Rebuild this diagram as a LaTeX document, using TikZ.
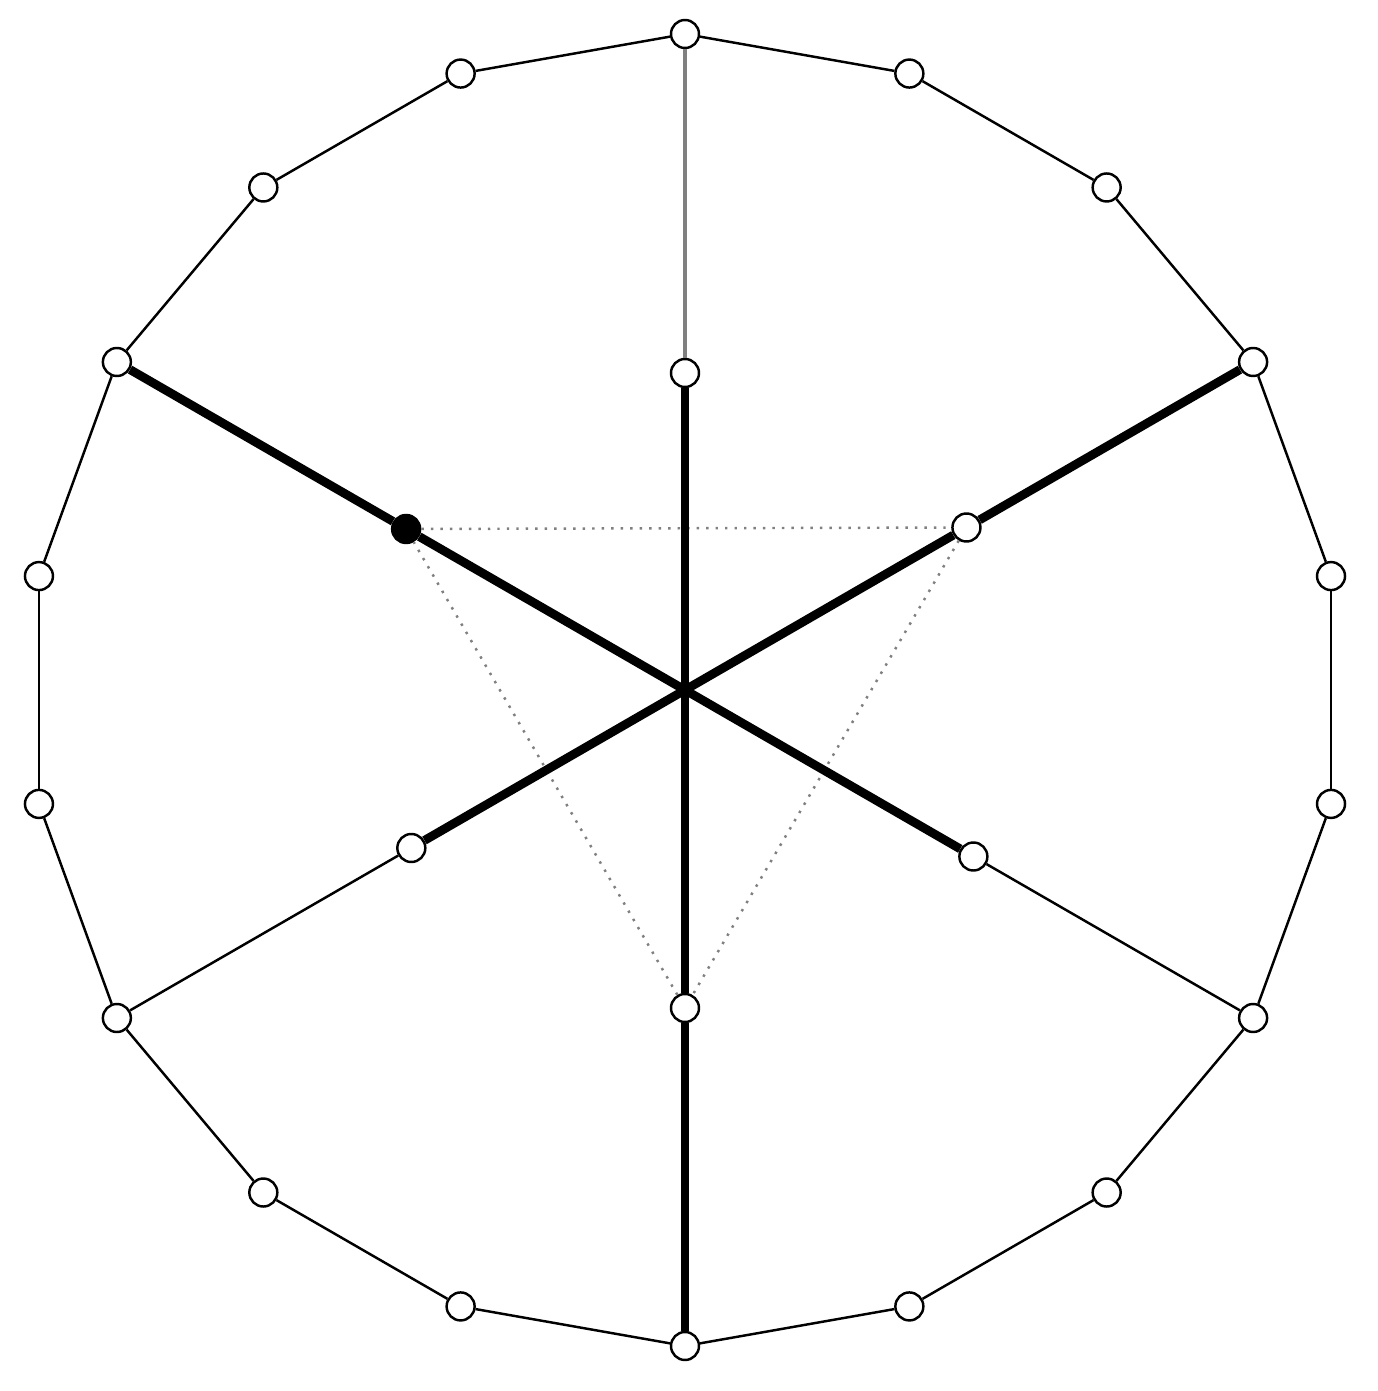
\documentclass[tikz,border=0pt]{standalone}
\usepackage{amsmath}
\usetikzlibrary{calc}

\begin{document}
\begin{tikzpicture}[
  vertex/.style={circle, draw, fill=white, inner sep=0pt, minimum size=0.28cm, line width=0.7pt},
  fullvertex/.style={vertex, fill=black},
  rim/.style={line width=0.7pt},
  spoke/.style={line width=2.5pt},
  hint/.style={gray, dotted, line width=0.7pt}
]
\useasboundingbox (-6.85,-7.01) rectangle (6.93,6.90);
\coordinate (c) at (0,0);
% outer ring of 18 vertices
\foreach \i in {0,...,17}
  \node [vertex] (o\i) at ({90-20*\i}:6.56) {};
% inner vertices
\node [vertex] (it) at (90:3.17) {};
\node [vertex] (iur) at (30:3.25) {};
\node [vertex] (ilr) at (-30:3.33) {};
\node [vertex] (ib) at (-90:3.18) {};
\node [vertex] (ill) at (210:3.16) {};
\node [fullvertex] (iul) at (150:3.22) {};
% ring
\foreach \i [evaluate=\i as \j using {int(mod(\i+1,18))}] in {0,...,17}
  \draw [rim] (o\i) -- (o\j);
% triangle
\draw [hint] (iul) -- (iur) -- (ib) -- (iul);
% spokes
\draw [gray, line width=0.9pt] (o0) -- (it);
\draw [spoke] (it) -- (c) -- (ib);
\draw [spoke] (ib) -- (o9);
\draw [spoke] (o15) -- (iul);
\draw [spoke] (iul) -- (c) -- (ilr);
\draw [rim] (ilr) -- (o6);
\draw [spoke] (o3) -- (iur);
\draw [spoke] (iur) -- (c) -- (ill);
\draw [rim] (ill) -- (o12);
\end{tikzpicture}
\end{document}
